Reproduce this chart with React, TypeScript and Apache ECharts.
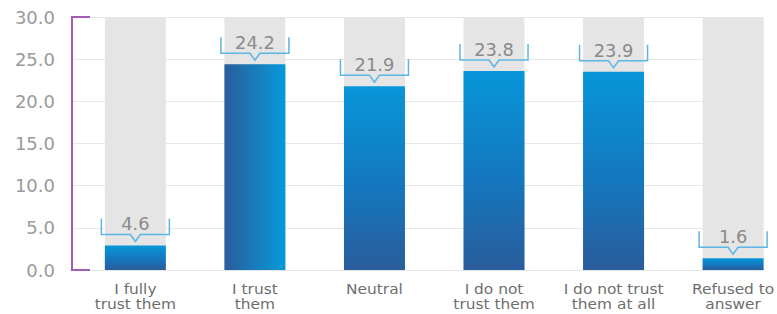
import React, { useEffect, useRef } from "react";
import * as echarts from "echarts";

const categories = [
  "I fully\ntrust them",
  "I trust\nthem",
  "Neutral",
  "I do not\ntrust them",
  "I do not trust\nthem at all",
  "Refused to\nanswer",
];
const labelValues = ["4.6", "24.2", "21.9", "23.8", "23.9", "1.6"];
const barValues = [2.9, 24.4, 21.8, 23.6, 23.5, 1.4];
const backgroundValues = [30, 30, 30, 30, 30, 30];
const yTicks = [0, 5, 10, 15, 20, 25, 30];

const FONT = "DejaVu Sans";

function vGrad() {
  return new echarts.graphic.LinearGradient(0, 0, 0, 1, [
    { offset: 0, color: "#0896da" },
    { offset: 0.55, color: "#1477bd" },
    { offset: 1, color: "#2a5c9c" },
  ]);
}
function hGrad() {
  return new echarts.graphic.LinearGradient(0, 0, 1, 0, [
    { offset: 0, color: "#2a5d9b" },
    { offset: 1, color: "#069ada" },
  ]);
}

export default function App() {
  const ref = useRef<HTMLDivElement>(null);
  useEffect(() => {
    if (!ref.current) return;
    const chart = echarts.init(ref.current, null, { renderer: "svg" });
    const idx = categories.map((_, i) => i);
    chart.setOption({
      animation: false,
      grid: { left: 72, right: 14, top: 17, bottom: 44, containLabel: false },
      xAxis: {
        type: "value",
        min: -0.53,
        max: 5.25,
        axisLine: { show: false },
        axisTick: { show: false },
        axisLabel: { show: false },
        splitLine: { show: false },
      },
      yAxis: {
        type: "value",
        min: yTicks[0],
        max: yTicks[yTicks.length - 1],
        interval: 5,
        axisLine: { show: false },
        axisTick: { show: false },
        axisLabel: {
          formatter: (v: number) => v.toFixed(1),
          color: "#9a9a9a",
          fontSize: 18,
          fontFamily: FONT,
          margin: 17,
          padding: [10, 0, 0, 0],
        },
        splitLine: { lineStyle: { color: "#e6e6e6", width: 1 } },
      },
      graphic: [
        {
          type: "polyline",
          shape: { points: [[90, 17], [72, 17], [72, 270], [90, 270]] },
          style: { stroke: "#a45cb9", lineWidth: 2, fill: "none" },
          z: 100,
        },
      ],
      series: [
        {
          type: "bar",
          data: idx.map((i) => [i, backgroundValues[i]]),
          barWidth: 61,
          barGap: "-100%",
          itemStyle: { color: "#e5e5e5" },
          silent: true,
          z: 1,
        },
        {
          type: "bar",
          data: idx.map((i) => ({
            value: [i, barValues[i]],
            itemStyle: { color: i === 1 ? hGrad() : vGrad() },
          })),
          barWidth: 61,
          barGap: "-100%",
          z: 2,
        },
        {
          type: "custom",
          data: idx.map((i) => [i, barValues[i]]),
          encode: { x: 0, y: 1 },
          z: 3,
          clip: false,
          renderItem: (params: any, api: any) => {
            const i = api.value(0);
            const p = api.coord([i, api.value(1)]);
            const base = api.coord([i, 0]);
            const x = p[0];
            const y = p[1];
            const top = y - 27;
            const bot = y - 11;
            const tip = y - 4;
            const hw = 34;
            return {
              type: "group",
              children: [
                {
                  type: "polyline",
                  shape: {
                    points: [
                      [x - hw, top],
                      [x - hw, bot],
                      [x - 5, bot],
                      [x, tip],
                      [x + 5, bot],
                      [x + hw, bot],
                      [x + hw, top],
                    ],
                  },
                  style: { stroke: "#5cb6e3", lineWidth: 1.5, fill: null },
                },
                {
                  type: "text",
                  x: x,
                  y: y - 21,
                  scaleX: 1.05,
                  style: {
                    x: 0,
                    y: 0,
                    text: labelValues[params.dataIndex],
                    align: "center",
                    verticalAlign: "middle",
                    fontSize: 17,
                    fontFamily: FONT,
                    fill: "#8a8a8a",
                  },
                },
                {
                  type: "text",
                  x: base[0],
                  y: base[1] + 11,
                  scaleX: 1.1,
                  style: {
                    x: 0,
                    y: 0,
                    text: categories[params.dataIndex],
                    align: "center",
                    verticalAlign: "top",
                    fontSize: 14,
                    lineHeight: 15,
                    fontFamily: FONT,
                    fill: "#6e6e6e",
                  },
                },
              ],
            };
          },
        },
      ],
    });
    return () => chart.dispose();
  }, []);
  return (
    <div
      ref={ref}
      style={{ position: "fixed", left: 0, top: 0, width: 777, height: 314, background: "#fff" }}
    />
  );
}
